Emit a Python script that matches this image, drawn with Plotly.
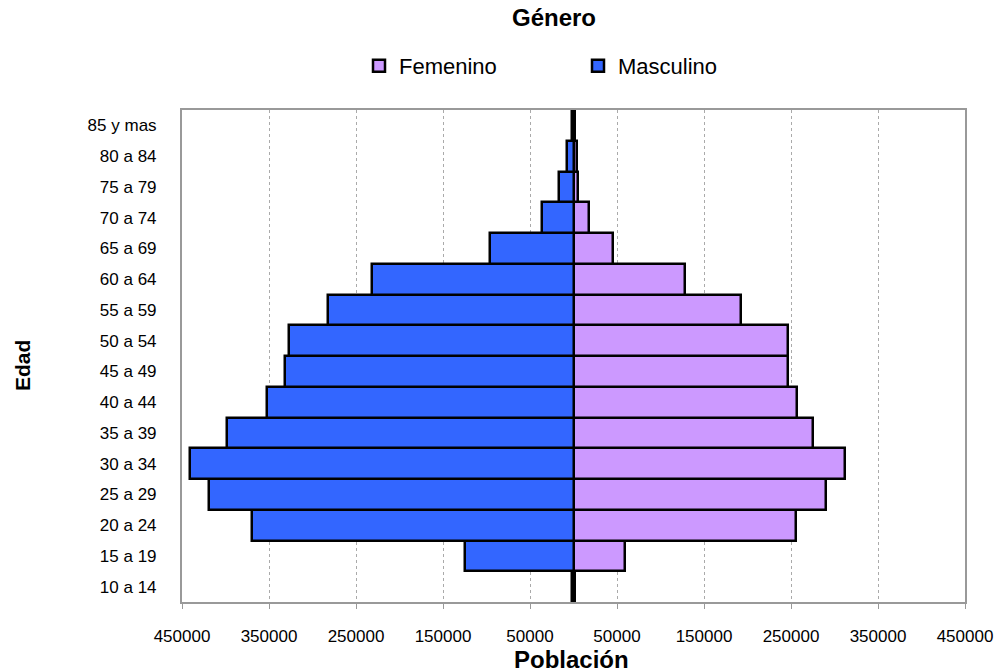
import plotly.graph_objects as go

edades = ["10 a 14", "15 a 19", "20 a 24", "25 a 29", "30 a 34", "35 a 39", "40 a 44",
          "45 a 49", "50 a 54", "55 a 59", "60 a 64", "65 a 69", "70 a 74", "75 a 79",
          "80 a 84", "85 y mas"]
masculino = [2000, 124700, 369000, 419000, 440600, 398000, 352000, 331500, 327000,
             282000, 231500, 96000, 36000, 16500, 7500, 2000]
femenino = [2000, 59000, 256000, 290000, 312000, 275000, 256500, 246500, 246500,
            192500, 128500, 45500, 18000, 5500, 4000, 2000]

tick_vals = [-450000, -350000, -250000, -150000, -50000, 50000, 150000, 250000, 350000, 450000]
tick_text = ["450000", "350000", "250000", "150000", "50000", "50000", "150000", "250000", "350000", "450000"]

font_family = "Liberation Sans, Arial, sans-serif"

W, H = 995, 672
L, R, T, B = 182, 965, 110, 602
pw, ph = R - L, B - T

fig = go.Figure()
fig.add_trace(go.Bar(
    y=edades, x=femenino, name="Femenino", orientation="h",
    marker=dict(color="#CC99FF", line=dict(color="black", width=2.5)),
))
fig.add_trace(go.Bar(
    y=edades, x=[-v for v in masculino], name="Masculino", orientation="h",
    marker=dict(color="#3366FF", line=dict(color="black", width=2.5)),
))

fig.update_layout(
    width=W, height=H,
    barmode="overlay", bargap=0,
    plot_bgcolor="white", paper_bgcolor="white",
    margin=dict(l=L, r=W - R, t=T, b=H - B, autoexpand=False),
    font=dict(family=font_family, size=17, color="black"),
    title=dict(text="<b>Género</b>", x=554 / W, xanchor="center", y=1 - 18 / H, yanchor="middle",
               font=dict(size=24, family=font_family)),
    legend=dict(orientation="h", x=(359 - L) / pw, xanchor="left", y=(B - 66) / ph, yanchor="middle",
                font=dict(size=22), traceorder="normal",
                entrywidth=174, entrywidthmode="pixels", itemwidth=30),
    showlegend=True,
    annotations=[
        dict(text="<b>Edad</b>", x=(22 - L) / pw, xref="paper", y=(B - 366) / ph, yref="paper",
             showarrow=False, textangle=-90, font=dict(size=21), xanchor="center", yanchor="middle"),
        dict(text="<b>Población</b>", x=(571 - L) / pw, xref="paper", y=(B - 659) / ph, yref="paper",
             showarrow=False, font=dict(size=24), xanchor="center", yanchor="middle"),
    ],
)

fig.update_xaxes(
    range=[-450000, 450000], tickvals=tick_vals, ticktext=tick_text,
    showgrid=True, gridcolor="#AAAAAA", griddash="dot", gridwidth=1,
    zeroline=True, zerolinecolor="black", zerolinewidth=5,
    showline=True, linecolor="#999999", linewidth=2, mirror=True,
    ticks="outside", ticklen=5, tickcolor="#999999",
    ticklabelstandoff=13, tickfont=dict(size=17),
)
fig.update_yaxes(
    categoryorder="array", categoryarray=edades,
    showline=True, linecolor="#999999", linewidth=2, mirror=True,
    ticks="", ticklabelstandoff=20, tickfont=dict(size=17),
    showgrid=False,
)

fig.write_html("out.html", config={"displayModeBar": False},
               post_script="document.body.style.margin='0';document.body.style.overflow='hidden';")
